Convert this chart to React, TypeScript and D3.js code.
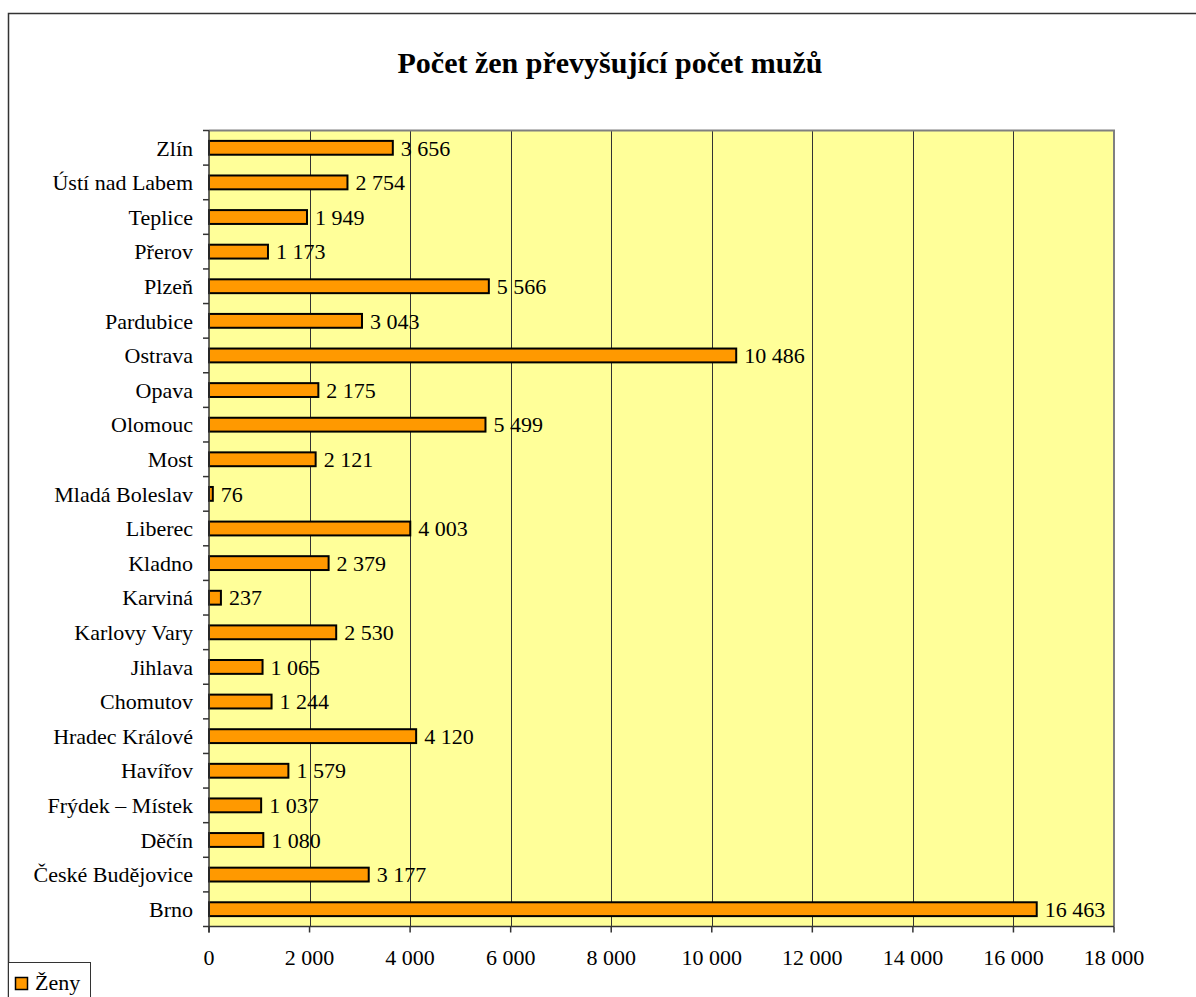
import React, { useEffect, useRef } from 'react'
import * as d3 from 'd3'

const cities = [
  'Zlín',
  'Ústí nad Labem',
  'Teplice',
  'Přerov',
  'Plzeň',
  'Pardubice',
  'Ostrava',
  'Opava',
  'Olomouc',
  'Most',
  'Mladá Boleslav',
  'Liberec',
  'Kladno',
  'Karviná',
  'Karlovy Vary',
  'Jihlava',
  'Chomutov',
  'Hradec Králové',
  'Havířov',
  'Frýdek – Místek',
  'Děčín',
  'České Budějovice',
  'Brno'
]
const women = [
  3656, 2754, 1949, 1173, 5566, 3043, 10486, 2175, 5499, 2121, 76, 4003, 2379,
  237, 2530, 1065, 1244, 4120, 1579, 1037, 1080, 3177, 16463
]
const xTicks = [0, 2000, 4000, 6000, 8000, 10000, 12000, 14000, 16000, 18000]
const title = 'Počet žen převyšující počet mužů'
const seriesName = 'Ženy'

const font = '"Liberation Serif", "Times New Roman", serif'
const fmt = d3.formatLocale({ decimal: ',', thousands: ' ', grouping: [3], currency: ['', ' Kč'] }).format(',d')

const drawChart = (node: SVGSVGElement) => {
  const left = 209
  const right = 1114
  const top = 130.5
  const bottom = 926.5

  const svg = d3.select(node)
  svg.selectAll('*').remove()

  // outer chart border
  svg
    .append('rect')
    .attr('x', 8.5)
    .attr('y', 13.5)
    .attr('width', 1220)
    .attr('height', 1020)
    .attr('fill', '#fff')
    .attr('stroke', '#333')
    .attr('stroke-width', 1.5)

  svg
    .append('text')
    .attr('x', 610)
    .attr('y', 73)
    .attr('text-anchor', 'middle')
    .attr('font-family', font)
    .attr('font-weight', 'bold')
    .attr('font-size', 30)
    .text(title)

  const x = d3.scaleLinear().domain([0, 18000]).range([left, right])
  const y = d3.scaleBand().domain(cities).range([top, bottom]).paddingInner(0.6).paddingOuter(0.3)
  const band = d3.scaleBand().domain(cities).range([top, bottom])

  // plot area
  svg
    .append('rect')
    .attr('x', left)
    .attr('y', top)
    .attr('width', right - left)
    .attr('height', bottom - top)
    .attr('fill', '#FFFF99')

  const grid = svg.append('g').attr('stroke', '#333').attr('stroke-width', 1)
  xTicks.slice(1, -1).forEach((t) => {
    grid
      .append('line')
      .attr('x1', Math.round(x(t)) + 0.5)
      .attr('x2', Math.round(x(t)) + 0.5)
      .attr('y1', top)
      .attr('y2', bottom)
  })

  // top and right border of plot
  svg
    .append('path')
    .attr('d', `M${left},${top}H${right}V${bottom}`)
    .attr('fill', 'none')
    .attr('stroke', '#808080')
    .attr('stroke-width', 2)

  // bars
  svg
    .append('g')
    .selectAll('rect')
    .data(women)
    .enter()
    .append('rect')
    .attr('x', left)
    .attr('y', (d, i) => y(cities[i]) as number)
    .attr('width', (d) => x(d) - left)
    .attr('height', y.bandwidth())
    .attr('fill', '#FF9900')
    .attr('stroke', '#000')
    .attr('stroke-width', 2)

  // value labels
  svg
    .append('g')
    .attr('font-family', font)
    .attr('font-size', 22)
    .selectAll('text')
    .data(women)
    .enter()
    .append('text')
    .attr('x', (d) => x(d) + 8)
    .attr('y', (d, i) => (band(cities[i]) as number) + band.bandwidth() / 2)
    .attr('dy', '0.35em')
    .text((d) => fmt(d))

  // category axis
  const yAxis = svg.append('g').attr('stroke', '#333').attr('stroke-width', 1.5)
  yAxis.append('line').attr('x1', left).attr('x2', left).attr('y1', top).attr('y2', bottom + 6)
  cities.forEach((c) => {
    const yy = band(c) as number
    yAxis.append('line').attr('x1', left - 6).attr('x2', left).attr('y1', yy).attr('y2', yy)
  })
  yAxis.append('line').attr('x1', left - 6).attr('x2', left).attr('y1', bottom).attr('y2', bottom)

  svg
    .append('g')
    .attr('font-family', font)
    .attr('font-size', 22)
    .attr('text-anchor', 'end')
    .selectAll('text')
    .data(cities)
    .enter()
    .append('text')
    .attr('x', left - 16)
    .attr('y', (d) => (band(d) as number) + band.bandwidth() / 2)
    .attr('dy', '0.35em')
    .text((d) => d)

  // value axis
  const xAxis = svg.append('g').attr('stroke', '#333').attr('stroke-width', 1.5)
  xAxis.append('line').attr('x1', left).attr('x2', right).attr('y1', bottom).attr('y2', bottom)
  xTicks.forEach((t) => {
    xAxis.append('line').attr('x1', x(t)).attr('x2', x(t)).attr('y1', bottom).attr('y2', bottom + 6)
  })

  svg
    .append('g')
    .attr('font-family', font)
    .attr('font-size', 22)
    .attr('text-anchor', 'middle')
    .selectAll('text')
    .data(xTicks)
    .enter()
    .append('text')
    .attr('x', (d) => x(d))
    .attr('y', 965)
    .text((d) => fmt(d))

  // legend
  const legend = svg.append('g')
  legend
    .append('rect')
    .attr('x', 8.5)
    .attr('y', 962.5)
    .attr('width', 82)
    .attr('height', 60)
    .attr('fill', '#fff')
    .attr('stroke', '#333')
    .attr('stroke-width', 1)
  legend
    .append('rect')
    .attr('x', 15.5)
    .attr('y', 977.5)
    .attr('width', 12)
    .attr('height', 12)
    .attr('fill', '#FF9900')
    .attr('stroke', '#000')
    .attr('stroke-width', 1.5)
  legend
    .append('text')
    .attr('x', 35)
    .attr('y', 990)
    .attr('font-family', font)
    .attr('font-size', 22)
    .text(seriesName)
}

const App = () => {
  const ref = useRef<SVGSVGElement>(null)

  useEffect(() => {
    if (ref.current) drawChart(ref.current)
  }, [])

  return (
    <svg
      ref={ref}
      width={1196}
      height={997}
      style={{ position: 'absolute', left: 0, top: 0, background: '#fff' }}
    />
  )
}

export default App
